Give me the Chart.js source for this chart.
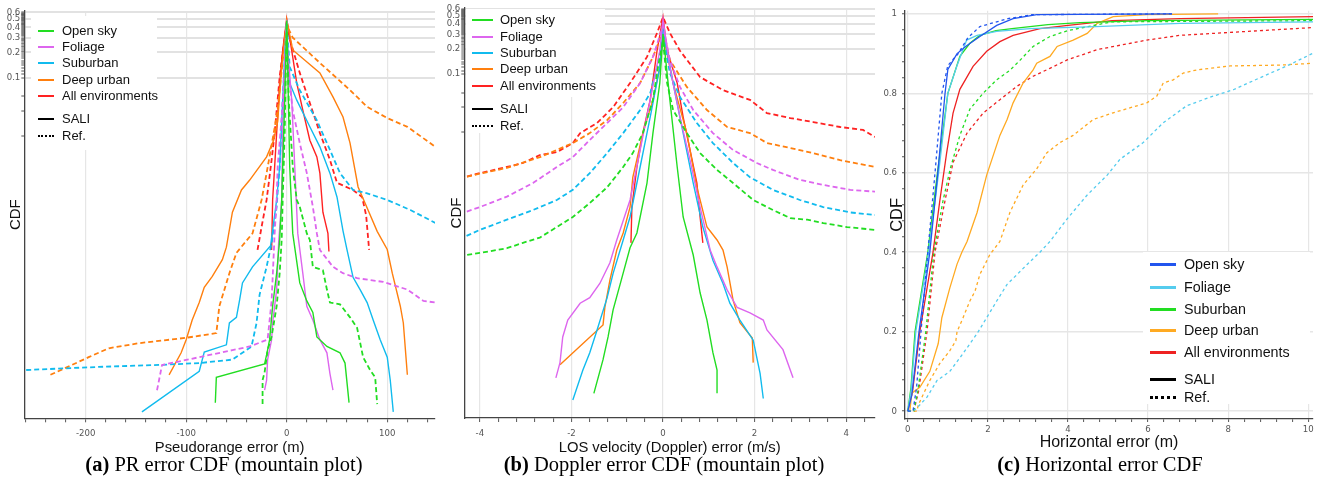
<!DOCTYPE html>
<html>
<head>
<meta charset="utf-8">
<script src="https://cdn.jsdelivr.net/npm/chart.js@4.4.1/dist/chart.umd.min.js"></script>
<style>
  body { margin: 0; background: #fff; width: 1317px; height: 487px; position: relative; overflow: hidden; font-family: 'Liberation Sans', Arial, sans-serif; }
  canvas { position: absolute; top: 0; }
  .legend { position: absolute; }
  .legend .bg { position: absolute; background: #fff; }
  .legend .row { position: absolute; white-space: nowrap; color: #111; }
  .legend .swatch { position: absolute; }
  .cap { position: absolute; top: 452px; width: 420px; text-align: center; font-family: 'Liberation Serif', 'Times New Roman', serif; font-size: 20.5px; line-height: 24px; color: #000; white-space: nowrap; }
</style>
</head>
<body>
<canvas id="pr" width="440" height="460" style="left:0"></canvas>
<canvas id="dop" width="440" height="460" style="left:440px"></canvas>
<canvas id="hor" width="437" height="460" style="left:880px"></canvas>
<div class="cap" style="left:14px"><b>(a)</b> PR error CDF (mountain plot)</div>
<div class="cap" style="left:454px"><b>(b)</b> Doppler error CDF (mountain plot)</div>
<div class="cap" style="left:890px"><b>(c)</b> Horizontal error CDF</div>
<script>
  // categories
  var environments = ['Open sky', 'Foliage', 'Suburban', 'Deep urban', 'All environments'];
  var methods = ['SALI', 'Ref.'];
  var mountainColors = ['#22dd22', '#dd66ee', '#11bbee', '#ff7f0e', '#ff2222'];
  var horizColors = ['#2255ee', '#55ccee', '#22dd22', '#ffaa22', '#ee2222'];

  // tick labels
  var prXLabels = [-200, -100, 0, 100];
  var dopXLabels = [-4, -2, 0, 2, 4];
  var horXLabels = [0, 2, 4, 6, 8, 10];
  var mountainYLabels = [0.1, 0.2, 0.3, 0.4, 0.5, 0.6];
  var mountainYMinor = [0.02, 0.04, 0.06];
  var horYLabels = [0, 0.2, 0.4, 0.6, 0.8, 1];

  // (a) pseudorange error, [error m, folded CDF]
  var prOpenSali = [[-71, 1.35e-5], [-70, 2.7e-5], [-22, 3.9e-5], [-20, 5e-5], [-17, 7.6e-5], [-14, 1.9e-4], [-10, 4.7e-4], [-7, 1.17e-3], [-5, 3.5e-3], [-4, 8.7e-3], [-2, 0.054], [0, 0.48], [1, 0.134], [3, 8.7e-3], [6, 1.4e-3], [13, 3.6e-4], [20, 2.2e-4], [26, 1.6e-4], [30, 8.2e-5], [40, 6.3e-5], [53, 5.3e-5], [58, 4e-5], [62, 1.35e-5]];
  var prOpenRef = [[-24, 1.3e-5], [-24, 2.5e-5], [-22, 3.1e-5], [-19, 5.7e-5], [-15, 8.3e-5], [-10, 1.9e-4], [-7, 4.7e-4], [-5, 1.17e-3], [-4, 3.5e-3], [-2, 0.022], [0, 0.45], [2, 0.054], [6, 8.7e-3], [10, 3.5e-3], [13, 2.9e-3], [20, 1.4e-3], [23, 1.17e-3], [26, 5.6e-4], [36, 5.1e-4], [40, 3e-4], [43, 2.1e-4], [53, 2e-4], [63, 1.4e-4], [70, 1.05e-4], [76, 4.7e-5], [83, 3.3e-5], [88, 2.7e-5], [90, 1.3e-5]];
  var prFoliageSali = [[-22, 1.9e-5], [-20, 2.5e-5], [-19, 4.4e-5], [-15, 7.6e-5], [-14, 1.2e-4], [-10, 3e-4], [-8, 1.1e-3], [-5, 3.5e-3], [-4, 0.022], [-2, 0.134], [0, 0.49], [1, 0.21], [5, 0.054], [8, 8.7e-3], [11, 1.4e-3], [16, 4.7e-4], [20, 1.9e-4], [26, 1.3e-4], [33, 7.6e-5], [40, 5.3e-5], [43, 3e-5], [46, 1.9e-5]];
  var prFoliageRef = [[-129, 1.9e-5], [-127, 2.5e-5], [-124, 3.8e-5], [-87, 4.7e-5], [-54, 5.7e-5], [-37, 6.3e-5], [-19, 7.6e-5], [-17, 1.3e-4], [-15, 2.2e-4], [-12, 1.4e-3], [-10, 3.5e-3], [-9, 8.7e-3], [-5, 0.034], [-2, 0.12], [0, 0.45], [1, 0.134], [6, 0.041], [13, 0.0166], [20, 7.3e-3], [26, 2.9e-3], [30, 1.4e-3], [33, 8.9e-4], [46, 5.6e-4], [56, 4.7e-4], [70, 4.1e-4], [96, 3.7e-4], [120, 3e-4], [136, 2.2e-4], [148, 2.1e-4], [165, 2e-4]];
  var prSuburbSali = [[-144, 1.05e-5], [-87, 3.2e-5], [-82, 5.4e-5], [-60, 6.6e-5], [-57, 1.2e-4], [-50, 1.4e-4], [-47, 2.2e-4], [-44, 3.6e-4], [-34, 5.6e-4], [-16, 1e-3], [-10, 3.5e-3], [-7, 8.7e-3], [-4, 0.054], [-2, 0.176], [0, 0.48], [1, 0.2], [3, 0.086], [10, 0.054], [23, 0.026], [33, 0.015], [43, 7.3e-3], [50, 3.8e-3], [56, 1.5e-3], [60, 8.9e-4], [66, 4.2e-4], [73, 3e-4], [80, 2.1e-4], [86, 1.3e-4], [93, 7.6e-5], [100, 4.7e-5], [103, 2.5e-5], [106, 1.05e-5]];
  var prSuburbRef = [[-275, 3.2e-5], [-261, 3.3e-5], [-187, 3.6e-5], [-127, 3.8e-5], [-87, 4e-5], [-54, 4.4e-5], [-35, 6.3e-5], [-30, 1.2e-4], [-27, 2.6e-4], [-20, 5.6e-4], [-15, 1.07e-3], [-10, 2.9e-3], [-9, 4.3e-3], [-7, 8.7e-3], [-4, 0.054], [0, 0.45], [3, 0.134], [13, 0.071], [30, 0.031], [43, 0.0138], [53, 7.3e-3], [66, 4.6e-3], [80, 4.2e-3], [100, 3.5e-3], [123, 2.66e-3], [148, 1.86e-3], [165, 1.5e-3]];
  var prUrbanSali = [[-117, 2.9e-5], [-105, 5.3e-5], [-100, 7.6e-5], [-94, 1.3e-4], [-87, 2.1e-4], [-82, 3.2e-4], [-74, 4.3e-4], [-64, 6.8e-4], [-60, 9.6e-4], [-54, 2.5e-3], [-45, 4.6e-3], [-37, 6e-3], [-20, 0.0114], [-13, 0.018], [-9, 0.03], [-5, 0.134], [0, 0.49], [6, 0.214], [33, 0.114], [46, 0.059], [56, 0.034], [63, 0.0166], [71, 5e-3], [78, 3.2e-3], [90, 1.48e-3], [100, 9e-4], [105, 4.7e-4], [113, 1.9e-4], [116, 1.2e-4], [120, 2.9e-5]];
  var prUrbanRef = [[-235, 2.9e-5], [-220, 3.5e-5], [-197, 4.7e-5], [-177, 6e-5], [-147, 6.9e-5], [-100, 8e-5], [-70, 9.1e-5], [-67, 1.9e-4], [-57, 4.7e-4], [-50, 8.2e-4], [-34, 1.4e-3], [-25, 3.5e-3], [-20, 7.3e-3], [-15, 0.0158], [-9, 0.041], [-4, 0.16], [0, 0.42], [6, 0.3], [33, 0.15], [63, 0.071], [80, 0.045], [100, 0.033], [120, 0.026], [148, 0.015], [165, 0.012]];
  var prAllSali = [[-15, 8.9e-4], [-14, 3.5e-3], [-12, 8.7e-3], [-10, 0.022], [-7, 0.086], [-4, 0.21], [0, 0.5], [5, 0.21], [10, 0.086], [16, 0.041], [23, 0.018], [30, 0.0114], [33, 7.3e-3], [36, 2.5e-3], [41, 1.4e-3], [42, 8.5e-4]];
  var prAllRef = [[-29, 8.9e-4], [-25, 1.67e-3], [-20, 3.5e-3], [-15, 0.0105], [-12, 0.022], [-7, 0.102], [-3, 0.245], [0, 0.46], [3, 0.29], [13, 0.114], [23, 0.05], [33, 0.022], [43, 0.0105], [50, 5.6e-3], [66, 4.6e-3], [75, 3.8e-3], [79, 2.3e-3], [82, 8.9e-4]];

  // (b) Doppler error, [error m/s, folded CDF]
  var dopOpenSali = [[-1.51, 1.5e-5], [-1.31, 3.8e-5], [-1.2, 7.1e-5], [-1.09, 1.5e-4], [-0.9, 3.6e-4], [-0.72, 8.3e-4], [-0.57, 1.25e-3], [-0.35, 4.95e-3], [-0.22, 0.0196], [-0.07, 0.078], [0, 0.3], [0.15, 0.049], [0.31, 7.7e-3], [0.44, 1.94e-3], [0.66, 6.8e-4], [0.81, 2.4e-4], [0.96, 1.13e-4], [1.09, 4.6e-5], [1.18, 2.85e-5], [1.18, 1.5e-5]];
  var dopOpenRef = [[-4.45, 6.6e-4], [-4, 7.2e-4], [-3.41, 8.2e-4], [-3.06, 9.5e-4], [-2.69, 1.1e-3], [-2.32, 1.47e-3], [-1.97, 1.94e-3], [-1.6, 2.85e-3], [-1.22, 4.4e-3], [-0.87, 7.7e-3], [-0.66, 0.0113], [-0.44, 0.0196], [-0.22, 0.049], [-0.11, 0.12], [0, 0.25], [0.09, 0.078], [0.22, 0.037], [0.52, 0.0196], [0.81, 0.0113], [1.18, 7.1e-3], [1.53, 4.95e-3], [1.97, 3.1e-3], [2.4, 2.35e-3], [2.78, 1.88e-3], [3.15, 1.8e-3], [3.5, 1.64e-3], [4.02, 1.47e-3], [4.63, 1.36e-3], [4.75, 1.3e-3]];
  var dopFoliageSali = [[-2.34, 2.3e-5], [-2.25, 3.5e-5], [-2.19, 7.1e-5], [-2.08, 1.13e-4], [-1.81, 1.8e-4], [-1.6, 2.1e-4], [-1.38, 3.1e-4], [-1.16, 5.5e-4], [-1.01, 1.03e-3], [-0.72, 3.1e-3], [-0.5, 0.0123], [-0.28, 0.049], [-0.07, 0.19], [0, 0.45], [0.15, 0.121], [0.37, 0.0305], [0.59, 9.3e-3], [0.81, 2.55e-3], [1.03, 7.8e-4], [1.18, 4.9e-4], [1.4, 2.6e-4], [1.62, 1.6e-4], [1.9, 1.38e-4], [2.19, 1.13e-4], [2.27, 8.6e-5], [2.62, 5e-5], [2.84, 2.3e-5]];
  var dopFoliageRef = [[-4.45, 2.1e-3], [-4, 2.55e-3], [-3.41, 3.4e-3], [-2.84, 4.95e-3], [-2.32, 7.7e-3], [-1.97, 0.0101], [-1.6, 0.0162], [-1.22, 0.0259], [-0.87, 0.04], [-0.5, 0.078], [-0.22, 0.16], [0, 0.38], [0.15, 0.147], [0.37, 0.07], [0.66, 0.037], [1.09, 0.0196], [1.53, 0.0123], [2.05, 8.6e-3], [2.4, 7.1e-3], [2.99, 5.4e-3], [3.5, 4.7e-3], [4.09, 4.1e-3], [4.63, 3.9e-3], [4.75, 3.8e-3]];
  var dopSuburbSali = [[-1.97, 1.25e-5], [-1.75, 2.85e-5], [-1.6, 4.6e-5], [-1.44, 8.6e-5], [-1.22, 2.1e-4], [-1.09, 4.1e-4], [-0.87, 1.03e-3], [-0.72, 1.94e-3], [-0.5, 7.7e-3], [-0.28, 0.0305], [-0.07, 0.12], [0, 0.35], [0.22, 0.078], [0.44, 0.0196], [0.66, 4.95e-3], [0.87, 1.47e-3], [1.09, 5.9e-4], [1.31, 3.1e-4], [1.46, 1.8e-4], [1.68, 1.13e-4], [1.97, 6.5e-5], [2.12, 2.6e-5], [2.19, 1.3e-5]];
  var dopSuburbRef = [[-4.45, 1.05e-3], [-4, 1.36e-3], [-3.41, 1.8e-3], [-2.84, 2.35e-3], [-2.32, 3.1e-3], [-1.97, 4.1e-3], [-1.6, 6.5e-3], [-1.22, 0.0113], [-0.87, 0.0196], [-0.5, 0.037], [-0.28, 0.059], [-0.13, 0.12], [0, 0.28], [0.15, 0.103], [0.37, 0.053], [0.74, 0.0259], [1.09, 0.0149], [1.53, 8.6e-3], [1.9, 5.8e-3], [2.4, 4.1e-3], [2.99, 3.1e-3], [3.5, 2.55e-3], [4.09, 2.2e-3], [4.63, 2.05e-3], [4.75, 2e-3]];
  var dopUrbanSali = [[-2.25, 3.3e-5], [-1.31, 9.9e-5], [-1.27, 1.6e-4], [-1.16, 3.4e-4], [-1.01, 7.8e-4], [-0.87, 1.25e-3], [-0.72, 2.55e-3], [-0.66, 5.8e-3], [-0.44, 0.0196], [-0.22, 0.049], [-0.07, 0.12], [0, 0.3], [0.22, 0.078], [0.52, 0.0196], [0.74, 4.4e-3], [0.96, 1.47e-3], [1.18, 1.03e-3], [1.31, 7.8e-4], [1.4, 4.9e-4], [1.53, 1.96e-4], [1.68, 1.05e-4], [1.95, 6.9e-5], [1.97, 3.5e-5]];
  var dopUrbanRef = [[-4.45, 5.6e-3], [-4, 6.4e-3], [-3.41, 7.5e-3], [-2.69, 0.0101], [-1.97, 0.0149], [-1.6, 0.0196], [-1.22, 0.028], [-0.87, 0.045], [-0.5, 0.078], [-0.22, 0.16], [-0.07, 0.26], [0, 0.34], [0.15, 0.147], [0.52, 0.07], [0.96, 0.037], [1.4, 0.0232], [1.9, 0.0196], [2.27, 0.0149], [2.78, 0.013], [3.28, 0.0113], [3.87, 9.3e-3], [4.63, 7.7e-3], [4.75, 7.5e-3]];
  var dopAllSali = [[-0.7, 9.5e-4], [-0.68, 2.55e-3], [-0.57, 7.7e-3], [-0.44, 0.0196], [-0.28, 0.049], [-0.13, 0.19], [0, 0.48], [0.09, 0.19], [0.31, 0.078], [0.44, 0.0305], [0.59, 0.0123], [0.74, 4.95e-3], [0.81, 1.94e-3], [0.87, 9.5e-4]];
  var dopAllRef = [[-4.45, 5.6e-3], [-4, 6.5e-3], [-3.41, 7.7e-3], [-3.06, 8.6e-3], [-2.69, 0.0107], [-2.32, 0.0116], [-1.97, 0.0149], [-1.81, 0.0196], [-1.44, 0.0259], [-1.09, 0.04], [-0.72, 0.078], [-0.35, 0.16], [-0.13, 0.31], [0, 0.48], [0.15, 0.31], [0.37, 0.19], [0.81, 0.092], [1.31, 0.064], [1.9, 0.049], [2.27, 0.034], [2.78, 0.0297], [3.28, 0.0266], [3.87, 0.0232], [4.37, 0.0214], [4.63, 0.0176], [4.75, 0.017]];

  // (c) horizontal error, [error m, CDF]
  var horOpenSali = [[0, 0], [0.1, 0.04], [0.28, 0.2], [0.55, 0.4], [0.75, 0.6], [0.93, 0.8], [1.0, 0.86], [1.23, 0.9], [1.47, 0.92], [1.8, 0.943], [2.22, 0.971], [2.63, 0.988], [3.22, 0.998], [6.6, 1]];
  var horOpenRef = [[0, 0], [0.13, 0], [0.22, 0.06], [0.33, 0.2], [0.5, 0.4], [0.68, 0.6], [0.85, 0.8], [1.0, 0.87], [1.26, 0.9], [1.5, 0.94], [1.8, 0.968], [2.5, 0.988], [3.1, 0.998], [6.6, 1]];
  var horFoliageSali = [[0, 0], [0.08, 0.05], [0.2, 0.2], [0.52, 0.4], [0.77, 0.6], [1.0, 0.8], [1.23, 0.87], [1.47, 0.934], [1.73, 0.946], [2.22, 0.956], [3.05, 0.963], [4.7, 0.968], [6.8, 0.976], [10.2, 0.98]];
  var horFoliageRef = [[0, 0], [0.13, 0], [0.25, 0.01], [0.48, 0.035], [0.73, 0.077], [1.05, 0.1], [1.38, 0.145], [1.73, 0.195], [1.97, 0.235], [2.22, 0.277], [2.48, 0.319], [2.73, 0.344], [2.98, 0.369], [3.3, 0.4], [3.55, 0.427], [3.98, 0.484], [4.48, 0.544], [4.98, 0.594], [5.3, 0.634], [5.88, 0.676], [6.38, 0.726], [6.97, 0.769], [7.63, 0.793], [8.13, 0.809], [8.88, 0.843], [9.47, 0.869], [10.1, 0.9], [10.2, 0.905]];
  var horSuburbSali = [[0, 0], [0.08, 0.06], [0.18, 0.2], [0.5, 0.4], [0.74, 0.6], [1.0, 0.8], [1.3, 0.893], [1.55, 0.926], [1.8, 0.946], [2.2, 0.958], [2.6, 0.963], [3.5, 0.973], [4.3, 0.978], [6, 0.983], [10.2, 0.986]];
  var horSuburbRef = [[0, 0], [0.15, 0], [0.25, 0.05], [0.45, 0.2], [0.65, 0.4], [0.88, 0.53], [1.06, 0.61], [1.3, 0.694], [1.55, 0.76], [1.88, 0.8], [2.22, 0.834], [2.55, 0.858], [2.8, 0.883], [3.13, 0.918], [3.55, 0.943], [4, 0.958], [4.5, 0.968], [5.1, 0.98], [10.2, 0.983]];
  var horUrbanSali = [[0, 0], [0.05, 0], [0.1, 0.045], [0.3, 0.06], [0.55, 0.1], [0.76, 0.17], [0.85, 0.235], [1.05, 0.31], [1.23, 0.37], [1.35, 0.4], [1.48, 0.427], [1.73, 0.5], [1.97, 0.594], [2.3, 0.694], [2.48, 0.734], [2.63, 0.776], [2.88, 0.826], [3.13, 0.859], [3.22, 0.876], [3.55, 0.893], [3.73, 0.918], [4.13, 0.934], [4.48, 0.951], [4.73, 0.976], [5.13, 0.993], [5.97, 0.998], [7.75, 1]];
  var horUrbanRef = [[0, 0], [0.23, 0], [0.26, 0.015], [0.55, 0.077], [0.8, 0.12], [1.05, 0.152], [1.2, 0.177], [1.23, 0.2], [1.38, 0.235], [1.55, 0.277], [1.68, 0.302], [1.8, 0.344], [2.05, 0.394], [2.3, 0.427], [2.55, 0.5], [2.88, 0.569], [3.22, 0.61], [3.47, 0.65], [3.8, 0.676], [4.13, 0.694], [4.63, 0.734], [5.13, 0.751], [5.97, 0.776], [6.22, 0.793], [6.38, 0.826], [6.63, 0.834], [6.88, 0.851], [7.22, 0.859], [8.05, 0.869], [9.3, 0.871], [10.2, 0.876]];
  var horAllSali = [[0, 0], [0.12, 0.05], [0.3, 0.2], [0.63, 0.4], [0.8, 0.53], [0.97, 0.65], [1.13, 0.75], [1.3, 0.81], [1.63, 0.868], [1.97, 0.906], [2.3, 0.93], [2.63, 0.946], [3.3, 0.963], [4, 0.971], [5.1, 0.983], [6.8, 0.988], [10.2, 0.993]];
  var horAllRef = [[0, 0], [0.15, 0], [0.27, 0.05], [0.48, 0.2], [0.68, 0.4], [0.93, 0.53], [1.13, 0.626], [1.48, 0.7], [1.88, 0.75], [2.3, 0.784], [2.73, 0.818], [3.13, 0.843], [3.55, 0.863], [3.98, 0.884], [4.73, 0.91], [5.97, 0.934], [6.8, 0.946], [8.5, 0.956], [10.2, 0.966]];

  var prSeries = [[prOpenSali, prOpenRef], [prFoliageSali, prFoliageRef], [prSuburbSali, prSuburbRef], [prUrbanSali, prUrbanRef], [prAllSali, prAllRef]];
  var dopSeries = [[dopOpenSali, dopOpenRef], [dopFoliageSali, dopFoliageRef], [dopSuburbSali, dopSuburbRef], [dopUrbanSali, dopUrbanRef], [dopAllSali, dopAllRef]];
  var horSeries = [[horOpenSali, horOpenRef], [horFoliageSali, horFoliageRef], [horSuburbSali, horSuburbRef], [horUrbanSali, horUrbanRef], [horAllSali, horAllRef]];

  var tickFamily = "'Liberation Sans Narrow', 'DejaVu Sans Condensed', 'Liberation Sans', sans-serif";
  var textFamily = "'Liberation Sans', Arial, sans-serif";
  var tickSize = 9.5;

  function near(list, v) {
    for (var i = 0; i < list.length; i++) {
      if (Math.abs(list[i] - v) < 1e-6) return true;
    }
    return false;
  }

  function stepTicks(from, to, step) {
    var t = [];
    var n = Math.round((to - from) / step);
    for (var k = 0; k <= n; k++) t.push(Math.round((from + k * step) * 1000) / 1000);
    return t;
  }

  function lineSet(points, color, width, dash) {
    return {
      data: points.map(function (p) { return { x: p[0], y: p[1] }; }),
      borderColor: color,
      borderWidth: width,
      borderDash: dash,
      pointRadius: 0,
      fill: false,
      tension: 0
    };
  }

  function axisX(o) {
    return {
      type: 'linear',
      min: o.xMin,
      max: o.xMax,
      afterBuildTicks: function (s) { s.ticks = o.xTicks.map(function (v) { return { value: v }; }); },
      afterFit: function (s) { s.height = o.xAxisH; },
      ticks: {
        autoSkip: false, maxRotation: 0, padding: o.xTickPad, color: '#555',
        font: { family: tickFamily, size: tickSize },
        callback: function (v) { return near(o.xLabels, v) ? String(v) : ''; }
      },
      grid: {
        color: function (ctx) { return ctx.tick && near(o.xLabels, ctx.tick.value) ? '#e6e6e6' : 'rgba(0,0,0,0)'; },
        lineWidth: 1.2, tickLength: o.xTickLen, tickColor: '#555', tickWidth: 1
      },
      border: { color: '#444', width: 1.3 },
      title: { display: true, text: o.xTitle, color: '#111', font: { family: textFamily, size: o.titleSize }, padding: { top: 0, bottom: o.xTitlePad } }
    };
  }

  function buildMountain(id, series, o) {
    var datasets = [];
    series.forEach(function (pair, i) {
      datasets.push(lineSet(pair[1], mountainColors[i], 1.8, [5, 3]));
      datasets.push(lineSet(pair[0], mountainColors[i], 1.4, []));
    });
    var yTicks = mountainYMinor.slice();
    for (var k = 10; k <= 60; k++) yTicks.push(k / 100);
    new Chart(document.getElementById(id), {
      type: 'line',
      data: { datasets: datasets },
      options: {
        responsive: false,
        animation: false,
        layout: { padding: { left: 0, right: o.padRight, top: o.top, bottom: 0 } },
        plugins: { legend: { display: false }, tooltip: { enabled: false } },
        scales: {
          x: axisX(o),
          y: {
            type: 'logarithmic',
            min: o.yMin,
            max: o.yMax,
            afterBuildTicks: function (s) { s.ticks = yTicks.map(function (v) { return { value: v }; }); },
            afterFit: function (s) { s.width = o.yAxisW; },
            ticks: {
              autoSkip: false, padding: 1, color: '#555',
              font: { family: tickFamily, size: tickSize },
              callback: function (v) { return near(mountainYLabels, v) ? String(v) : ''; }
            },
            grid: {
              color: function (ctx) { return ctx.tick && near(mountainYLabels, ctx.tick.value) ? '#e2e2e2' : 'rgba(0,0,0,0)'; },
              lineWidth: 2, tickLength: 3, tickColor: '#555', tickWidth: 1
            },
            border: { color: '#444', width: 1.3 },
            title: { display: true, text: 'CDF', color: '#111', font: { family: textFamily, size: 15 }, padding: { top: o.yTitlePad, bottom: 0 } }
          }
        }
      }
    });
  }

  function buildHorizontal(id, series, o) {
    var datasets = [];
    series.forEach(function (pair, i) {
      datasets.push(lineSet(pair[1], horizColors[i], 1.3, [3, 3]));
      datasets.push(lineSet(pair[0], horizColors[i], 1.3, []));
    });
    var yTicks = stepTicks(0, 1, 0.04);
    new Chart(document.getElementById(id), {
      type: 'line',
      data: { datasets: datasets },
      options: {
        responsive: false,
        animation: false,
        layout: { padding: { left: 0, right: o.padRight, top: o.top, bottom: 0 } },
        plugins: { legend: { display: false }, tooltip: { enabled: false } },
        scales: {
          x: axisX(o),
          y: {
            type: 'linear',
            min: o.yMin,
            max: o.yMax,
            afterBuildTicks: function (s) { s.ticks = yTicks.map(function (v) { return { value: v }; }); },
            afterFit: function (s) { s.width = o.yAxisW; },
            ticks: {
              autoSkip: false, padding: 5, color: '#555',
              font: { family: tickFamily, size: tickSize },
              callback: function (v) { return near(horYLabels, v) ? String(v) : ''; }
            },
            grid: {
              color: function (ctx) { return ctx.tick && near(horYLabels, ctx.tick.value) ? '#e6e6e6' : 'rgba(0,0,0,0)'; },
              lineWidth: 1.5, tickLength: 3, tickColor: '#555', tickWidth: 1
            },
            border: { color: '#444', width: 1.3 },
            title: { display: true, text: 'CDF', color: '#111', font: { family: textFamily, size: 16.5 }, padding: { top: o.yTitlePad, bottom: 0 } }
          }
        }
      }
    });
  }

  buildMountain('pr', prSeries, {
    xMin: -261, xMax: 147.5, xTicks: stepTicks(-260, 140, 20), xLabels: prXLabels,
    yMin: 8.8e-6, yMax: 0.622, top: 11, padRight: 5, yAxisW: 24.3, xAxisH: 41.7,
    xTickLen: 4, xTickPad: 6, xTitle: 'Pseudorange error (m)', titleSize: 14.8, xTitlePad: 3.5, yTitlePad: 6.5
  });
  buildMountain('dop', dopSeries, {
    xMin: -4.34, xMax: 4.63, xTicks: stepTicks(-4, 4.4, 0.4), xLabels: dopXLabels,
    yMin: 7.6e-6, yMax: 0.617, top: 8, padRight: 5, yAxisW: 24.3, xAxisH: 42,
    xTickLen: 4, xTickPad: 6, xTitle: 'LOS velocity (Doppler) error (m/s)', titleSize: 14.8, xTitlePad: 3.5, yTitlePad: 8
  });
  buildHorizontal('hor', horSeries, {
    xMin: -0.07, xMax: 10.12, xTicks: stepTicks(0, 10, 0.4), xLabels: horXLabels,
    yMin: -0.02, yMax: 1.008, top: 7, padRight: 4, yAxisW: 25, xAxisH: 41,
    xTickLen: 3, xTickPad: 1.5, xTitle: 'Horizontal error (m)', titleSize: 16, xTitlePad: 7.4, yTitlePad: 8
  });

  // legends drawn as page text over the plot areas
  function addLegend(o) {
    var box = document.createElement('div');
    box.className = 'legend';
    box.style.left = o.left + 'px';
    box.style.top = o.top + 'px';
    o.bgs.forEach(function (b) {
      var bg = document.createElement('div');
      bg.className = 'bg';
      bg.style.left = '0px';
      bg.style.top = b[0] + 'px';
      bg.style.width = b[1] + 'px';
      bg.style.height = b[2] + 'px';
      box.appendChild(bg);
    });
    var entries = environments.map(function (name, i) { return { text: name, color: o.colors[i], dash: false }; });
    entries.push({ text: methods[0], color: '#000', dash: false });
    entries.push({ text: methods[1], color: '#000', dash: true });
    entries.forEach(function (e, i) {
      var sw = document.createElement('div');
      sw.className = 'swatch';
      sw.style.left = o.lineX + 'px';
      sw.style.width = o.lineW + 'px';
      sw.style.top = (o.rows[i] - o.lineH / 2) + 'px';
      sw.style.borderTop = o.lineH + 'px ' + (e.dash ? 'dotted ' : 'solid ') + e.color;
      box.appendChild(sw);
      var t = document.createElement('div');
      t.className = 'row';
      t.textContent = e.text;
      t.style.left = o.textX + 'px';
      t.style.top = (o.rows[i] - 9) + 'px';
      t.style.lineHeight = '18px';
      t.style.fontSize = o.fontSize + 'px';
      box.appendChild(t);
    });
    document.body.appendChild(box);
  }

  addLegend({ left: 31, top: 16, bgs: [[0, 126, 134]], colors: mountainColors, rows: [15, 31, 47, 64, 80, 103, 120], lineX: 7, lineW: 16, lineH: 2, textX: 31, fontSize: 13 });
  addLegend({ left: 466, top: 9, bgs: [[0, 139, 88], [88, 70, 36]], colors: mountainColors, rows: [11, 28, 44, 60, 77, 100, 117], lineX: 6, lineW: 21, lineH: 2, textX: 34, fontSize: 13 });
  addLegend({ left: 1143, top: 252, bgs: [[0, 167, 152]], colors: horizColors, rows: [12, 35, 57, 78, 100, 127, 145], lineX: 7, lineW: 26, lineH: 3, textX: 41, fontSize: 14.3 });
</script>
</body>
</html>
